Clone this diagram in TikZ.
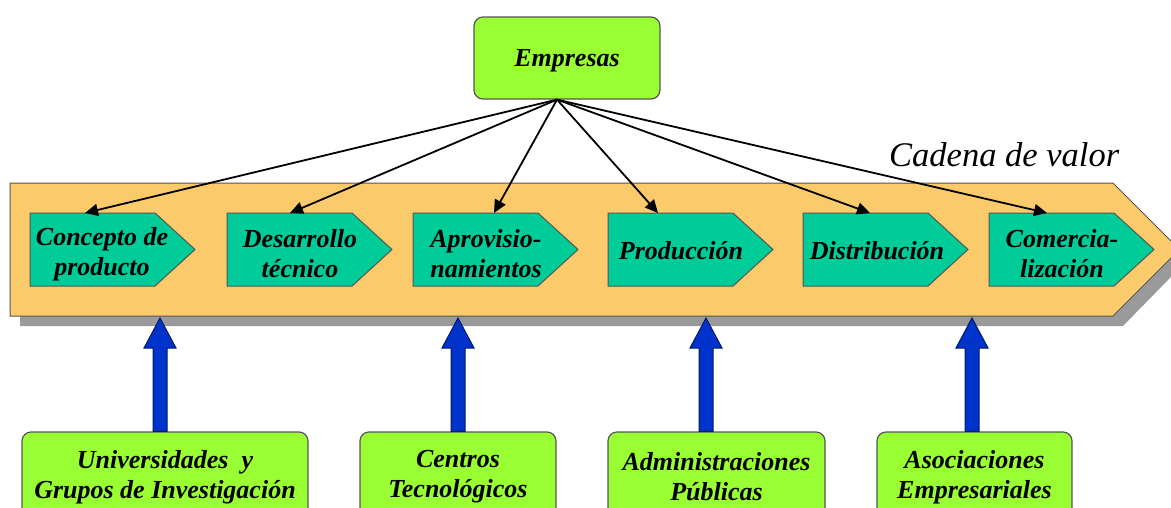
\documentclass[tikz,border=0pt]{standalone}
\usepackage{fontspec}
\setmainfont{Liberation Serif}
\usetikzlibrary{arrows.meta,calc}

\definecolor{bandfill}{HTML}{FBCB6B}
\definecolor{chevfill}{HTML}{00CC99}
\definecolor{boxgreen}{HTML}{99FF33}
\definecolor{arrowblue}{HTML}{0033CC}
\definecolor{arrowedge}{HTML}{001A66}
\definecolor{edgegray}{HTML}{555555}
\definecolor{shadowgray}{HTML}{9A9A9A}

\tikzset{
  lbl/.style={font=\bfseries\itshape\fontsize{26}{30}\selectfont, align=center, inner sep=0pt},
  greenbox/.style={lbl, draw=edgegray, line width=1.2pt, fill=boxgreen, rounded corners=9pt},
  chevron/.style={draw=edgegray, line width=1pt, fill=chevfill},
  link/.style={line width=1.8pt, -{Triangle[length=13pt,width=12pt]}},
  upshaft/.style={fill=arrowblue, draw=arrowedge, line width=1pt, line join=miter},
}

% one step of the value chain: left edge x, body length 125, point 40
\newcommand{\chevshape}[1]{%
  \draw[chevron] (#1,213) -- ++(125,0) -- ++(40,36.5) -- ++(-40,36.5) -- ++(-125,0) -- cycle;}

% thick blue arrow from the bottom of a box up to a tip coordinate
\newcommand{\uparrowfrom}[2]{%
  \filldraw[upshaft] ($(#2|-#1.north)+(-7,0)$) -- ($(#2)+(-7,30)$) -- ($(#2)+(-16,30)$)
    -- (#2) -- ($(#2)+(16,30)$) -- ($(#2)+(7,30)$) -- ($(#2|-#1.north)+(7,0)$) -- cycle;}

\begin{document}
\begin{tikzpicture}[x=1pt,y=-1pt]
  \useasboundingbox (0,0) rectangle (1171,507);
  \clip (0,0) rectangle (1171,507);

  % value chain band with its drop shadow
  \fill[shadowgray] (20,193) -- (1123,193) -- (1188,259.5) -- (1123,326) -- (20,326) -- cycle;
  \draw[fill=bandfill, draw=edgegray, line width=1pt]
    (10,183) -- (1113,183) -- (1179.5,249.5) -- (1113,316) -- (10,316) -- cycle;
  \node[anchor=base west, inner sep=0pt, font=\itshape\fontsize{34.5}{38}\selectfont] (cadena) at (889,166) {Cadena de valor};

  % the six steps
  \chevshape{30}
  \chevshape{227}
  \chevshape{413}
  \chevshape{608}
  \chevshape{803}
  \chevshape{989}
  \node[lbl] (s1) at (102,254) {Concepto de\\producto};
  \node[lbl] (s2) at (300,254) {Desarrollo\\técnico};
  \node[lbl] (s3) at (486,254) {Aprovisio-\\namientos};
  \node[lbl] (s4) at (681,251) {Producción};
  \node[lbl] (s5) at (877,251) {Distribución};
  \node[lbl] (s6) at (1062,254) {Comercia-\\lización};

  \coordinate (k1) at (85,213);
  \coordinate (k2) at (290,213);
  \coordinate (k3) at (494,213);
  \coordinate (k4) at (658,213);
  \coordinate (k5) at (870,213);
  \coordinate (k6) at (1047,213);

  % companies feed every step
  \node[greenbox, text depth=0pt, minimum width=186pt, minimum height=82pt] (emp) at (567,58) {Empresas};
  \coordinate (hub) at ($(emp.south)+(-10,0)$);
  \foreach \k in {k1,k2,k3,k4,k5,k6}
    \draw[link] (hub) -- (\k);

  % supporting agents below the chain
  \node[greenbox, minimum width=286pt, minimum height=90pt] (b1) at (165,477) {Universidades\ \ y\\Grupos de Investigación};
  \node[greenbox, minimum width=196pt, minimum height=90pt] (b2) at (458,477) {Centros\\Tecnológicos};
  \node[greenbox, minimum width=217pt, minimum height=90pt] (b3) at (716.5,477) {Administraciones\\Públicas};
  \node[greenbox, minimum width=195pt, minimum height=90pt] (b4) at (974.5,477) {Asociaciones\\Empresariales};

  \coordinate (t1) at (160,318);
  \coordinate (t2) at (458,318);
  \coordinate (t3) at (706,318);
  \coordinate (t4) at (972,318);
  \uparrowfrom{b1}{t1}
  \uparrowfrom{b2}{t2}
  \uparrowfrom{b3}{t3}
  \uparrowfrom{b4}{t4}
\end{tikzpicture}
\end{document}
